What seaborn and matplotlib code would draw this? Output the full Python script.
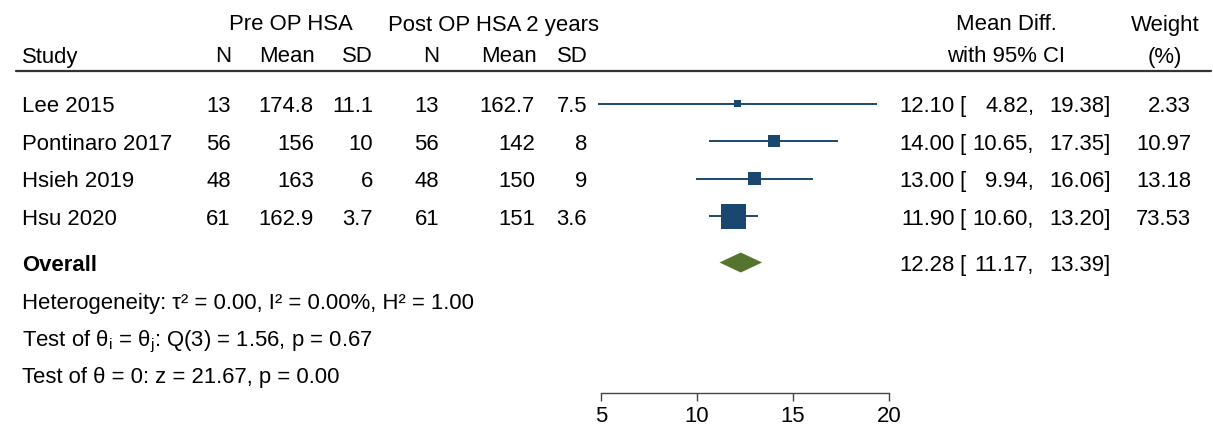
import matplotlib
matplotlib.use("Agg")
import matplotlib.pyplot as plt
import matplotlib.transforms as mtransforms
import seaborn as sns
import pandas as pd
import numpy as np

# ---------------- data ----------------
studies = ["Lee 2015", "Pontinaro 2017", "Hsieh 2019", "Hsu 2020"]
pre_n = [13, 56, 48, 61]
pre_mean = ["174.8", "156", "163", "162.9"]
pre_sd = ["11.1", "10", "6", "3.7"]
post_n = [13, 56, 48, 61]
post_mean = ["162.7", "142", "150", "151"]
post_sd = ["7.5", "8", "9", "3.6"]
md = [12.10, 14.00, 13.00, 11.90]
ci_lo = [4.82, 10.65, 9.94, 10.60]
ci_hi = [19.38, 17.35, 16.06, 13.20]
weights = [2.33, 10.97, 13.18, 73.53]
overall_md = 12.28
overall_lo = 11.17
overall_hi = 13.39
xticks = [5, 10, 15, 20]
het_text = "Heterogeneity: τ² = 0.00, I² = 0.00%, H² = 1.00"
test1_text = r"Test of $\mathregular{\theta_i}$ = $\mathregular{\theta_j}$: Q(3) = 1.56, p = 0.67"
test2_text = "Test of θ = 0: z = 21.67, p = 0.00"

# ---------------- style ----------------
sns.set_theme(style="white")
plt.rcParams["font.family"] = ["Liberation Sans", "DejaVu Sans"]
plt.rcParams["mathtext.fontset"] = "custom"
plt.rcParams["mathtext.rm"] = "Liberation Sans"
plt.rcParams["mathtext.it"] = "Liberation Sans:italic"
FS = 15.9
NAVY = "#1a476f"
GREEN = "#55752f"
W, H = 1213, 429

fig = plt.figure(figsize=(W / 100, H / 100), dpi=100)
ax = fig.add_axes([0, 0, 1, 1])
px_per_unit = 288 / 15.0
x0 = 5 - 601 / px_per_unit
ax.set_xlim(x0, x0 + W / px_per_unit)
row_px = 37.6
ax.set_ylim((H - 103.5) / row_px, -103.5 / row_px)


def ypx(p):
    return (p - 103.5) / row_px


rows = np.arange(len(studies), dtype=float)
y_overall = ypx(262.5)
y_het, y_t1, y_t2 = ypx(301), ypx(338), ypx(375)
y_axis = ypx(393)
y_h1, y_h2 = ypx(22), ypx(54)
y_rule = ypx(71)
text_shift = 8.5 / row_px  # baseline below visual centre

df = pd.DataFrame({"study": studies, "md": md, "lo": ci_lo, "hi": ci_hi,
                   "w": weights, "row": rows})

# CI lines
ax.hlines(df["row"], df["lo"], df["hi"], color=NAVY, lw=1.4, zorder=2)
# squares sized by weight
size_map = {2.33: 25, 10.97: 72, 13.18: 82, 73.53: 324}
sns.scatterplot(data=df, x="md", y="row", size="w", sizes=size_map,
                marker="s", color=NAVY, linewidth=0, legend=False, ax=ax, zorder=3)
# overall diamond
dh = 10 / row_px
ax.fill([overall_lo, overall_md, overall_hi, overall_md],
        [y_overall, y_overall - dh, y_overall, y_overall + dh],
        color=GREEN, lw=0, zorder=3)

# axis
for s in ["top", "left", "right"]:
    ax.spines[s].set_visible(False)
ax.spines["bottom"].set_position(("data", y_axis))
ax.spines["bottom"].set_bounds(xticks[0], xticks[-1])
ax.spines["bottom"].set_color("#444444")
ax.spines["bottom"].set_linewidth(1.0)
ax.set_xticks(xticks)
ax.set_xticklabels([str(t) for t in xticks], fontsize=FS)
ax.tick_params(axis="x", bottom=True, direction="out", length=6, width=1.0,
               color="#444444", pad=3, labelcolor="black")
ax.set_yticks([])
ax.set_xlabel("")
ax.set_ylabel("")
ax.grid(False)

tr = mtransforms.blended_transform_factory(fig.transFigure, ax.transData)


def T(xpx, y, s, ha="left", **kw):
    ax.text(xpx / W, y + text_shift, s, transform=tr, ha=ha, va="baseline",
            fontsize=FS, color="black", **kw)


# header
T(291, y_h1, "Pre OP HSA", ha="center")
T(493, y_h1, "Post OP HSA 2 years", ha="center")
T(1006, y_h1, "Mean Diff.", ha="center")
T(1200, y_h1, "Weight", ha="right")
T(22, y_h2, "Study")
T(231, y_h2, "N", ha="right")
T(315, y_h2, "Mean", ha="right")
T(373, y_h2, "SD", ha="right")
T(439, y_h2, "N", ha="right")
T(537, y_h2, "Mean", ha="right")
T(588, y_h2, "SD", ha="right")
T(1006, y_h2, "with 95% CI", ha="center")
T(1165, y_h2, "(%)", ha="center")
ax.plot([16 / W, 1211 / W], [y_rule, y_rule], transform=tr, color="#333333",
        lw=1.6, clip_on=False)

# rows
for i, r in enumerate(rows):
    T(22, r, studies[i])
    T(231, r, str(pre_n[i]), ha="right")
    T(314, r, pre_mean[i], ha="right")
    T(373, r, pre_sd[i], ha="right")
    T(439, r, str(post_n[i]), ha="right")
    T(535, r, post_mean[i], ha="right")
    T(587, r, post_sd[i], ha="right")
    T(955, r, f"{md[i]:.2f}", ha="right")
    T(959, r, "[")
    T(1034, r, f"{ci_lo[i]:.2f},", ha="right")
    T(1111, r, f"{ci_hi[i]:.2f}]", ha="right")
    T(1191, r, f"{weights[i]:.2f}", ha="right")

T(22, y_overall, "Overall", fontweight="bold")
T(955, y_overall, f"{overall_md:.2f}", ha="right")
T(959, y_overall, "[")
T(1034, y_overall, f"{overall_lo:.2f},", ha="right")
T(1111, y_overall, f"{overall_hi:.2f}]", ha="right")

T(22, y_het, het_text)
T(22, y_t1, test1_text)
T(22, y_t2, test2_text)

fig.savefig("out.png", dpi=100, facecolor="white")
